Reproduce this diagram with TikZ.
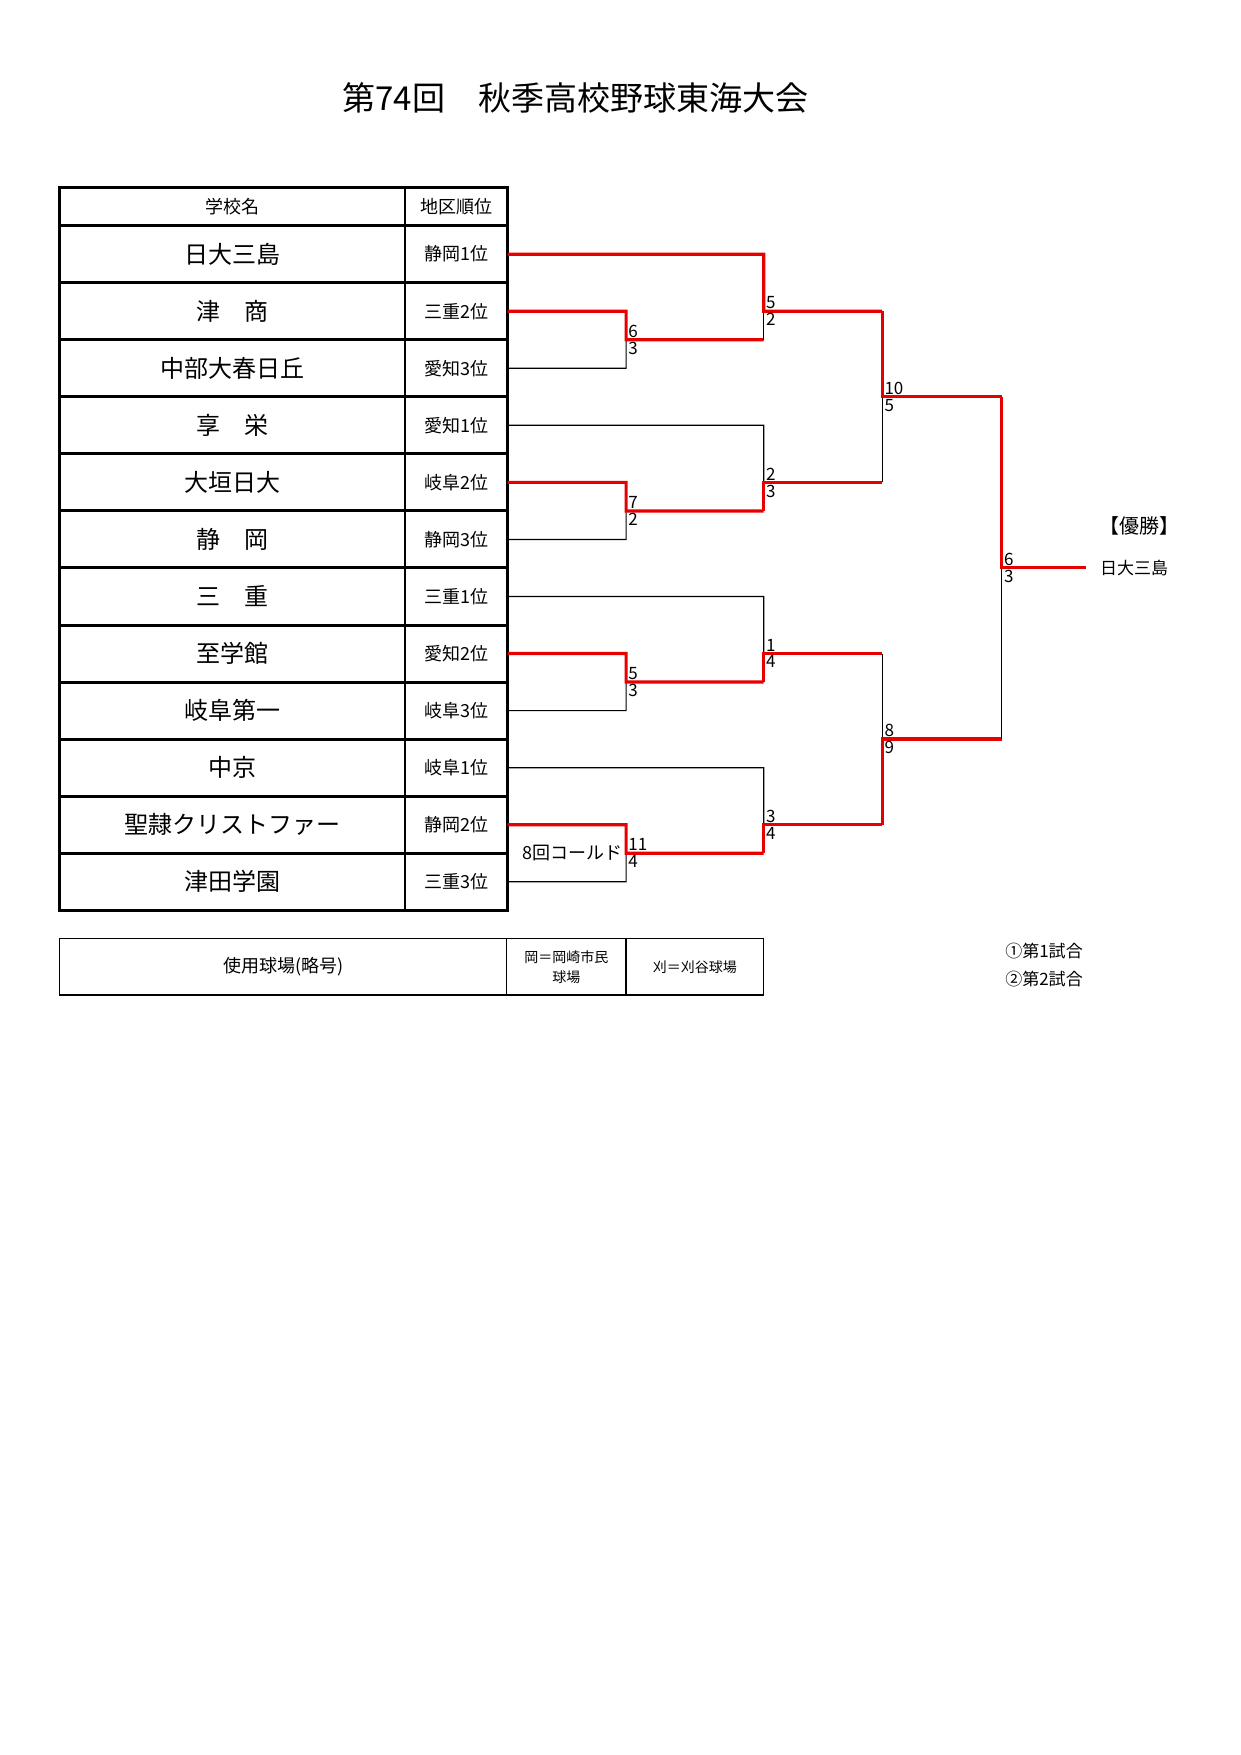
\documentclass[tikz,border=0pt]{standalone}
\usepackage{fontspec}
\setmainfont{Noto Sans CJK JP}
\begin{document}
\begin{tikzpicture}[x=1.128pt,y=-1.128pt,
  thickb/.style={line width=3pt},
  thinb/.style={line width=1.3pt},
  red/.style={draw={rgb,255:red,230;green,0;blue,0},line width=3.2pt},
  blk/.style={draw=black,line width=1.2pt},
  nm/.style={font=\fontsize{24}{26}\selectfont},
  rk/.style={font=\fontsize{18}{20}\selectfont},
  sc/.style={font=\fontsize{17}{18}\selectfont,inner sep=1pt}]
\useasboundingbox (0,0) rectangle (1100,1555.7);
\node[font=\fontsize{33}{36}\selectfont] (title) at (510,87) {第74回　秋季高校野球東海大会};
% table
\draw[thickb] (53,166) rectangle (450,807);
\draw[thickb] (53,200) -- (450,200);
\foreach \k in {1,...,11}{\draw[thickb] (53,{200+50.58*\k}) -- (450,{200+50.58*\k});}
\draw[thinb] (359,166) -- (359,807);
\node[font=\fontsize{18}{20}\selectfont] (h1) at (206,183) {学校名};
\node[font=\fontsize{18}{20}\selectfont] (h2) at (404.5,183) {地区順位};
\foreach \n/\r [count=\i from 0] in {日大三島/静岡1位,津　商/三重2位,中部大春日丘/愛知3位,享　栄/愛知1位,大垣日大/岐阜2位,静　岡/静岡3位,三　重/三重1位,至学館/愛知2位,岐阜第一/岐阜3位,中京/岐阜1位,聖隷クリストファー/静岡2位,津田学園/三重3位}{
  \node[nm] (n\i) at (206,{200+50.58*(\i+0.5)}) {\n};
  \node[rk] (r\i) at (404.5,{200+50.58*(\i+0.5)}) {\r};
  \coordinate (y\i) at (450,{200+50.58*(\i+0.5)});
}
% helper: match at x, top y, bottom y, out y
% Round 1
\def\xa{555}\def\xb{677}\def\xc{782}\def\xd{888}
% m1 rows1,2 top wins
\draw[blk] (y2) -- (\xa,326.4) -- (\xa,301.2);
\draw[red] (y1) -- (\xa,275.9) -- (\xa,301.2) -- (\xb,301.2);
\draw[blk] (y4|-0,0) ;
% m2 rows4,5
\draw[blk] (y5) -- (\xa,478.2) -- (\xa,452.9);
\draw[red] (y4) -- (\xa,427.6) -- (\xa,452.9) -- (\xb,452.9);
% m3 rows7,8
\draw[blk] (y8) -- (\xa,629.9) -- (\xa,604.6);
\draw[red] (y7) -- (\xa,579.3) -- (\xa,604.6) -- (\xb,604.6);
% m4 rows10,11
\draw[blk] (y11) -- (\xa,781.6) -- (\xa,756.3);
\draw[red] (y10) -- (\xa,731) -- (\xa,756.3) -- (\xb,756.3);
% Round 2
\draw[blk] (\xb,275.9) -- (\xb,301.2);
\draw[red] (y0) -- (\xb,225.3) -- (\xb,275.9) -- (\xc,275.9);
\draw[blk] (y3) -- (\xb,377) -- (\xb,427.6);
\draw[red] (\xb,452.9) -- (\xb,427.6) -- (\xc,427.6);
\draw[blk] (y6) -- (\xb,528.7) -- (\xb,579.3);
\draw[red] (\xb,604.6) -- (\xb,579.3) -- (\xc,579.3);
\draw[blk] (y9) -- (\xb,680.5) -- (\xb,731);
\draw[red] (\xb,756.3) -- (\xb,731) -- (\xc,731);
% Round 3
\draw[blk] (\xc,427.6) -- (\xc,351.7);
\draw[red] (\xc,275.9) -- (\xc,351.7) -- (\xd,351.7);
\draw[blk] (\xc,579.3) -- (\xc,655.1);
\draw[red] (\xc,731) -- (\xc,655.1) -- (\xd,655.1);
% Final
\draw[blk] (\xd,655.1) -- (\xd,503.4);
\coordinate (champ) at (963,503.4);
\draw[red] (\xd,351.7) -- (\xd,503.4) -- (champ);
\node[font=\fontsize{17}{18}\selectfont,anchor=west] (win) at (972,503.4) {日大三島};
\node[font=\fontsize{20}{22}\selectfont] (yu) at (1010,466) {【優勝】};
% scores
\foreach \x/\y/\a/\b in {555/301.2/6/3, 555/452.9/7/2, 555/604.6/5/3, 555/756.3/11/4,
  677/275.9/5/2, 677/427.6/2/3, 677/579.3/1/4, 677/731/3/4,
  782/351.7/10/5, 782/655.1/8/9, 888/503.4/6/3}{
  \node[sc,anchor=south west] at (\x+1,\y-1) {\a};
  \node[sc,anchor=north west] at (\x+1,\y+1) {\b};
}
\node[sc,anchor=east,font=\fontsize{18}{20}\selectfont] (cold) at (553,756.3) {8回コールド};
% bottom table
\draw[thinb] (53,832) rectangle (677,882);
\draw[thinb] (449,832) -- (449,882);
\draw[thinb] (555,832) -- (555,882);
\node[font=\fontsize{18}{20}\selectfont] (u1) at (251,857) {使用球場(略号)};
\node[font=\fontsize{14}{20}\selectfont,align=center] (u2) at (502,857) {岡＝岡崎市民\\球場};
\node[font=\fontsize{14}{16}\selectfont] (u3) at (616,857) {刈＝刈谷球場};
\node[font=\fontsize{17}{18}\selectfont,anchor=west] (f1) at (888,843) {①第1試合};
\node[font=\fontsize{17}{18}\selectfont,anchor=west] (f2) at (888,868) {②第2試合};
\end{tikzpicture}
\end{document}
